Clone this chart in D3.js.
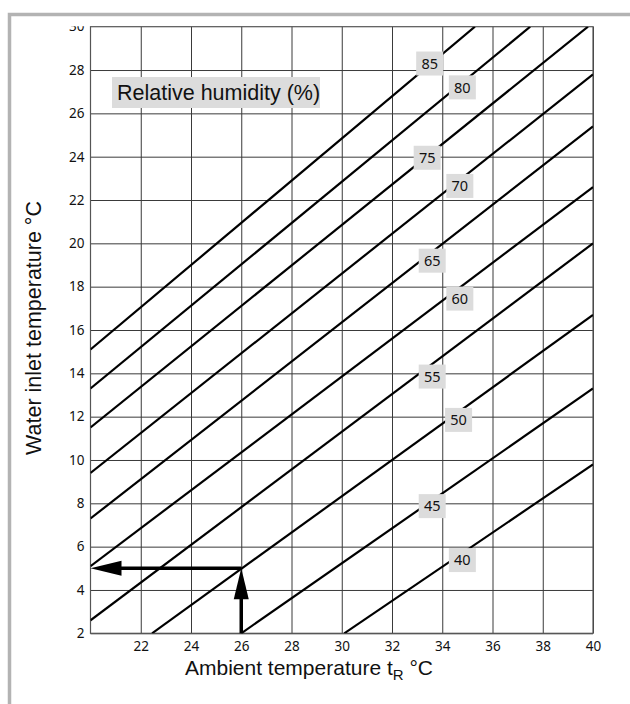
<!DOCTYPE html>
<html>
<head>
<meta charset="utf-8">
<script src="https://cdn.jsdelivr.net/npm/d3@7"></script>
<style>
  html, body { margin: 0; padding: 0; background: #fff; }
  svg { display: block; }
</style>
</head>
<body>
<script>
// ---- data ----
const rhLevels   = [85, 80, 75, 70, 65, 60, 55, 50, 45, 40];
const startAmb   = [20, 20, 20, 20, 20, 20, 20, 22.45, 26.0, 30.1];
const startWater = [15.1, 13.3, 11.5, 9.4, 7.3, 5.1, 2.6, 2, 2, 2];
const endAmb     = [35.3, 37.5, 39.8, 40, 40, 40, 40, 40, 40, 40];
const endWater   = [30, 30, 30, 27.8, 25.4, 22.6, 20.0, 16.7, 13.3, 9.8];
const labelAmb   = [33.5, 34.8, 33.4, 34.7, 33.6, 34.7, 33.6, 34.65, 33.6, 34.8];
const labelWater = [28.3, 27.2, 23.95, 22.65, 19.2, 17.45, 13.85, 11.85, 7.87, 5.38];
const xTickValues = [22, 24, 26, 28, 30, 32, 34, 36, 38, 40];
const yTickValues = [2, 4, 6, 8, 10, 12, 14, 16, 18, 20, 22, 24, 26, 28];
const yTopLabel = 30;
const exampleAmb = 26, exampleWater = 5;

const W = 630, H = 704;
const svg = d3.select("body").append("svg").attr("width", W).attr("height", H);

// outer gray frame
svg.append("rect").attr("x", 9.5).attr("y", 14.5).attr("width", 720).attr("height", 800)
  .attr("fill", "none").attr("stroke", "#b3b3b3").attr("stroke-width", 3.5);

const x = d3.scaleLinear().domain([20, 40]).range([90.5, 593]);
const y = d3.scaleLinear().domain([2, 30]).range([633.3, 26.7]);
const x0 = x(20), x1 = x(40), y0 = y(2), y1 = y(30);

const defs = svg.append("defs");
defs.append("clipPath").attr("id", "plotclip").append("rect")
  .attr("x", x0).attr("y", y1).attr("width", x1 - x0).attr("height", y0 - y1);
defs.append("clipPath").attr("id", "c30").append("rect")
  .attr("x", 0).attr("y", y1 - 0.5).attr("width", 90).attr("height", 30);

const tickFont = "'Noto Sans', 'Open Sans', sans-serif";
const titleFont = "'Liberation Sans', Arial, sans-serif";
const tickSize = 13.5;

// x axis with grid
const gx = svg.append("g").attr("transform", `translate(0,${y0})`)
  .call(d3.axisBottom(x).tickValues(xTickValues).tickSize(-(y0 - y1)).tickPadding(8.5).tickFormat(d3.format("d")));
gx.select(".domain").remove();
gx.selectAll(".tick line").attr("stroke", "#3a3a3a").attr("stroke-width", 1);
gx.selectAll(".tick text").attr("font-family", tickFont).attr("font-size", tickSize).attr("fill", "#111");

// y axis with grid
const gy = svg.append("g").attr("transform", `translate(${x0},0)`)
  .call(d3.axisLeft(y).tickValues(yTickValues).tickSize(-(x1 - x0)).tickPadding(6).tickFormat(d3.format("d")));
gy.select(".domain").remove();
gy.selectAll(".tick line").attr("stroke", "#3a3a3a").attr("stroke-width", 1);
gy.selectAll(".tick text").attr("font-family", tickFont).attr("font-size", tickSize).attr("fill", "#111");

// top label "30", cut at the plot top
svg.append("text").attr("x", x0 - 6).attr("y", y(yTopLabel)).attr("dy", "0.32em")
  .attr("text-anchor", "end").attr("font-family", tickFont).attr("font-size", tickSize)
  .attr("fill", "#111").attr("clip-path", "url(#c30)").text(yTopLabel);

// plot frame
svg.append("rect").attr("x", x0).attr("y", y1).attr("width", x1 - x0).attr("height", y0 - y1)
  .attr("fill", "none").attr("stroke", "#555").attr("stroke-width", 1.2);

// humidity lines
const lines = rhLevels.map((rh, i) => ({
  rh, p: [[startAmb[i], startWater[i]], [endAmb[i], endWater[i]]],
  lx: labelAmb[i], ly: labelWater[i]
}));
const lineGen = d3.line().x(d => x(d[0])).y(d => y(d[1]));
svg.append("g").attr("clip-path", "url(#plotclip)")
  .selectAll("path").data(lines).join("path")
  .attr("d", d => lineGen(d.p)).attr("fill", "none")
  .attr("stroke", "#000").attr("stroke-width", 2.2);

// line labels
const lab = svg.append("g").selectAll("g").data(lines).join("g")
  .attr("transform", d => `translate(${x(d.lx)},${y(d.ly)})`);
lab.append("rect").attr("x", -13.5).attr("y", -12).attr("width", 27).attr("height", 24)
  .attr("fill", "#dcdcdc");
lab.append("text").attr("text-anchor", "middle").attr("dy", "0.36em")
  .attr("font-family", tickFont).attr("font-size", 14.5).attr("fill", "#111")
  .text(d => d.rh);

// example arrows
const ax = x(exampleAmb), ay = y(exampleWater);
svg.append("line").attr("x1", ax).attr("y1", y0).attr("x2", ax).attr("y2", ay + 28)
  .attr("stroke", "#000").attr("stroke-width", 3.5);
svg.append("path").attr("d", `M${ax},${ay} L${ax - 7.5},${ay + 31} L${ax + 7.5},${ay + 31} Z`).attr("fill", "#000");
svg.append("line").attr("x1", ax).attr("y1", ay).attr("x2", x0 + 28).attr("y2", ay)
  .attr("stroke", "#000").attr("stroke-width", 3.5);
svg.append("path").attr("d", `M${x0},${ay} L${x0 + 31},${ay - 7.5} L${x0 + 31},${ay + 7.5} Z`).attr("fill", "#000");

// title box
svg.append("rect").attr("x", 112).attr("y", 77).attr("width", 208).attr("height", 31).attr("fill", "#dcdcdc");
svg.append("text").attr("x", 117).attr("y", 100).attr("font-family", titleFont).attr("font-size", 21.5)
  .attr("fill", "#111").text("Relative humidity (%)");

// axis titles
const xt = svg.append("text").attr("x", 309).attr("y", 675).attr("text-anchor", "middle")
  .attr("font-family", titleFont).attr("font-size", 21).attr("fill", "#111");
xt.append("tspan").text("Ambient temperature t");
xt.append("tspan").attr("font-size", 15).attr("dy", 5).text("R");
xt.append("tspan").attr("dy", -5).text(" °C");

svg.append("text").attr("transform", "translate(41,328) rotate(-90)").attr("text-anchor", "middle")
  .attr("font-family", titleFont).attr("font-size", 21.5).attr("fill", "#111")
  .text("Water inlet temperature °C");
</script>
</body>
</html>
